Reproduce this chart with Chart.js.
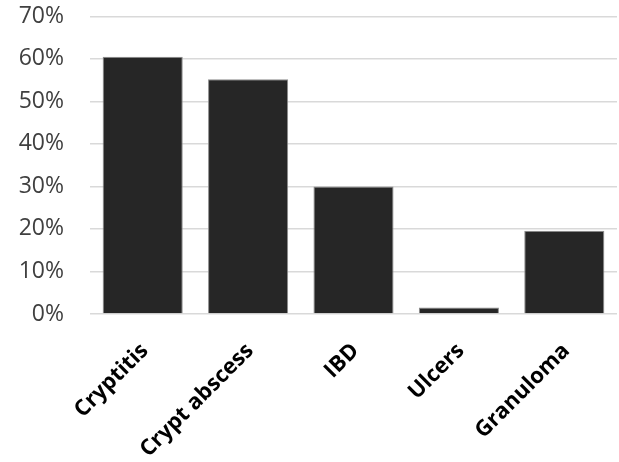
<!DOCTYPE html>
<html>
<head>
<meta charset="utf-8">
<script src="https://cdn.jsdelivr.net/npm/chart.js@4"></script>
<style>
  html, body { margin: 0; padding: 0; background: #ffffff; overflow: hidden; }
  #wrap { width: 619px; height: 474px; margin-top: -12px; }
</style>
</head>
<body>
<div id="wrap"><canvas id="chart"></canvas></div>
<script>
// Chart data
const categories = ['Cryptitis', 'Crypt abscess', 'IBD', 'Ulcers', 'Granuloma'];
const percentValues = [60.5, 55.2, 30, 1.5, 19.6];
const yTickMax = 70;
const yTickStep = 10;

const ctx = document.getElementById('chart');

new Chart(ctx.getContext('2d'), {
  type: 'bar',
  data: {
    labels: categories,
    datasets: [{
      data: percentValues,
      backgroundColor: '#262626',
      borderColor: '#8c8c8c',
      borderWidth: 1,
      barPercentage: 0.76,
      categoryPercentage: 1.0
    }]
  },
  options: {
    responsive: true,
    maintainAspectRatio: false,
    animation: false,
    layout: {
      padding: { top: 3, right: 2, left: 0, bottom: 0 }
    },
    plugins: {
      legend: { display: false },
      tooltip: { enabled: false }
    },
    scales: {
      x: {
        grid: { display: false },
        border: { display: false },
        ticks: {
          color: '#000000',
          font: { family: 'Open Sans', size: 22, weight: 'bold' },
          maxRotation: 45,
          minRotation: 45,
          padding: 16,
          labelOffset: 2
        },
        afterFit: function(scale) {
          scale.height = 148;
        }
      },
      y: {
        min: 0,
        max: yTickMax,
        grid: {
          color: '#d9d9d9',
          lineWidth: 1.5,
          drawTicks: false
        },
        border: { display: false },
        ticks: {
          stepSize: yTickStep,
          color: '#404040',
          padding: 26,
          font: { family: 'Open Sans', size: 23, lineHeight: 0.2 },
          callback: function(value) {
            return value + '%';
          }
        },
        afterFit: function(scale) {
          scale.width = 90;
        }
      }
    }
  }
});
</script>
</body>
</html>
